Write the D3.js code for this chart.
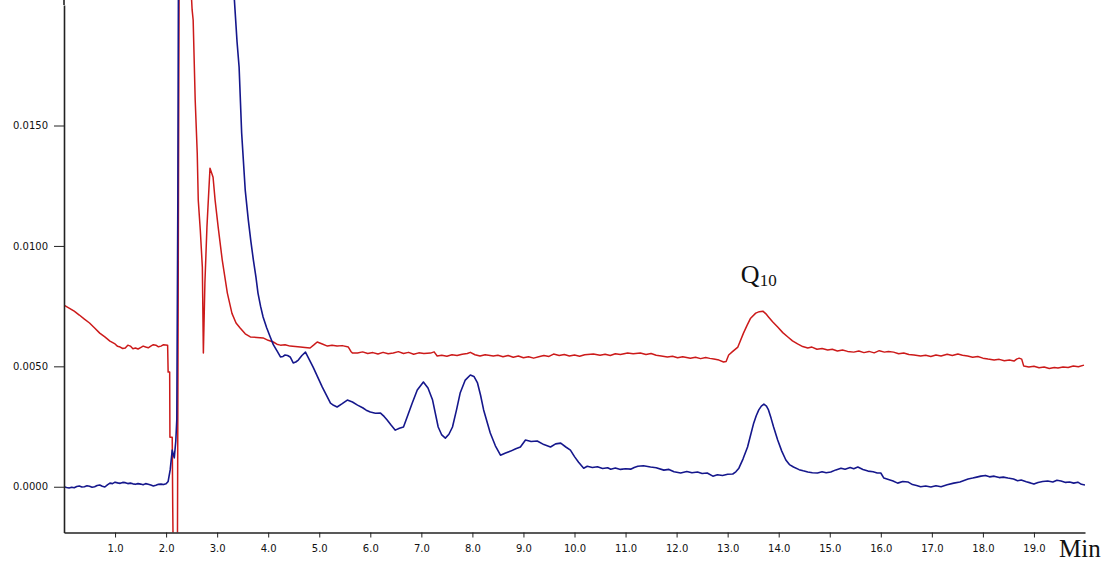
<!DOCTYPE html>
<html>
<head>
<meta charset="utf-8">
<script src="https://cdn.jsdelivr.net/npm/d3@7/dist/d3.min.js"></script>
<style>
  html, body { margin: 0; padding: 0; background: #fff; }
  svg { display: block; }
  .axis text { font-family: "DejaVu Sans", sans-serif; font-size: 10px; fill: #111; }
  .axis path, .axis line { stroke: #222; }
</style>
</head>
<body>
<svg id="chart" width="1115" height="564"></svg>
<script>
// Retention time (min) and absorbance readings for the two chromatograms
const blueTrace = [
  [0.00,0.00000],[0.05,-0.00003],[0.10,-0.00005],[0.15,-0.00002],[0.20,-0.00004],[0.25,0.00001],[0.30,0.00003],[0.35,-0.00001],[0.40,0.00000],[0.45,0.00004],
  [0.50,0.00002],[0.55,-0.00002],[0.60,0.00000],[0.65,0.00005],[0.70,0.00007],[0.75,0.00002],[0.80,-0.00001],[0.85,0.00008],[0.90,0.00015],[0.95,0.00013],
  [1.00,0.00019],[1.05,0.00016],[1.10,0.00014],[1.15,0.00018],[1.20,0.00017],[1.25,0.00013],[1.30,0.00015],[1.35,0.00012],[1.40,0.00010],[1.45,0.00013],
  [1.50,0.00011],[1.55,0.00008],[1.60,0.00013],[1.65,0.00010],[1.70,0.00007],[1.75,0.00003],[1.80,0.00006],[1.85,0.00010],[1.90,0.00011],[1.95,0.00009],
  [2.00,0.00012],[2.04,0.00022],[2.08,0.00070],[2.12,0.00152],[2.16,0.00120],[2.19,0.00190],[2.21,0.00280],[2.23,0.01190],[2.26,0.03500],[2.80,0.06000],
  [3.30,0.02150],[3.35,0.01980],[3.39,0.01847],[3.43,0.01743],[3.48,0.01469],[3.55,0.01232],[3.61,0.01108],[3.66,0.01020],[3.71,0.00941],[3.76,0.00870],
  [3.80,0.00804],[3.85,0.00750],[3.90,0.00705],[3.97,0.00660],[4.04,0.00622],[4.10,0.00590],[4.17,0.00565],[4.24,0.00539],[4.29,0.00541],[4.33,0.00547],
  [4.38,0.00545],[4.43,0.00539],[4.49,0.00514],[4.54,0.00518],[4.59,0.00526],[4.66,0.00545],[4.73,0.00559],[4.80,0.00530],[4.88,0.00497],[4.97,0.00455],
  [5.06,0.00414],[5.14,0.00380],[5.22,0.00347],[5.28,0.00338],[5.35,0.00331],[5.45,0.00345],[5.55,0.00360],[5.65,0.00352],[5.75,0.00339],[5.85,0.00328],
  [5.92,0.00318],[6.00,0.00310],[6.10,0.00305],[6.20,0.00306],[6.27,0.00292],[6.33,0.00277],[6.41,0.00255],[6.49,0.00235],[6.57,0.00243],[6.65,0.00248],
  [6.74,0.00300],[6.82,0.00347],[6.92,0.00402],[7.04,0.00435],[7.13,0.00410],[7.22,0.00360],[7.33,0.00248],[7.40,0.00215],[7.47,0.00202],[7.54,0.00218],
  [7.61,0.00248],[7.69,0.00320],[7.76,0.00389],[7.86,0.00443],[7.96,0.00464],[8.03,0.00458],[8.10,0.00431],[8.16,0.00380],[8.22,0.00319],[8.35,0.00223],
  [8.45,0.00170],[8.55,0.00131],[8.65,0.00140],[8.75,0.00148],[8.85,0.00158],[8.94,0.00165],[9.04,0.00194],[9.15,0.00188],[9.27,0.00190],[9.40,0.00175],
  [9.53,0.00165],[9.63,0.00178],[9.73,0.00181],[9.83,0.00165],[9.92,0.00152],[10.00,0.00125],[10.08,0.00102],[10.18,0.00077],[10.25,0.00085],[10.35,0.00080],
  [10.45,0.00083],[10.55,0.00076],[10.65,0.00079],[10.71,0.00073],[10.80,0.00078],[10.90,0.00072],[11.00,0.00075],[11.10,0.00073],[11.17,0.00080],[11.24,0.00085],
  [11.35,0.00087],[11.49,0.00082],[11.60,0.00079],[11.75,0.00069],[11.85,0.00072],[11.95,0.00062],[12.08,0.00057],[12.20,0.00063],[12.30,0.00058],[12.41,0.00061],
  [12.50,0.00055],[12.60,0.00057],[12.71,0.00044],[12.80,0.00050],[12.90,0.00047],[13.00,0.00052],[13.10,0.00053],[13.16,0.00062],[13.22,0.00077],[13.30,0.00115],
  [13.39,0.00165],[13.45,0.00215],[13.51,0.00264],[13.56,0.00295],[13.61,0.00319],[13.66,0.00335],[13.71,0.00343],[13.76,0.00335],[13.80,0.00319],[13.85,0.00285],
  [13.90,0.00248],[13.98,0.00194],[14.06,0.00148],[14.14,0.00111],[14.21,0.00092],[14.29,0.00082],[14.40,0.00071],[14.48,0.00066],[14.57,0.00061],[14.66,0.00058],
  [14.76,0.00057],[14.85,0.00062],[14.93,0.00058],[15.02,0.00061],[15.12,0.00070],[15.22,0.00077],[15.30,0.00073],[15.40,0.00080],[15.47,0.00075],[15.55,0.00082],
  [15.65,0.00072],[15.75,0.00065],[15.85,0.00062],[15.93,0.00057],[16.00,0.00057],[16.06,0.00036],[16.15,0.00030],[16.24,0.00024],[16.33,0.00015],[16.43,0.00022],
  [16.53,0.00020],[16.62,0.00009],[16.70,0.00005],[16.78,0.00000],[16.88,0.00003],[16.98,-0.00001],[17.08,0.00004],[17.18,0.00000],[17.30,0.00008],[17.43,0.00015],
  [17.55,0.00020],[17.63,0.00026],[17.71,0.00032],[17.80,0.00036],[17.88,0.00040],[17.96,0.00044],[18.05,0.00047],[18.13,0.00041],[18.22,0.00044],[18.32,0.00038],
  [18.40,0.00040],[18.49,0.00036],[18.60,0.00032],[18.68,0.00025],[18.75,0.00028],[18.85,0.00021],[18.93,0.00016],[19.00,0.00011],[19.08,0.00018],[19.17,0.00022],
  [19.27,0.00024],[19.37,0.00020],[19.45,0.00027],[19.53,0.00024],[19.62,0.00018],[19.70,0.00020],[19.78,0.00015],[19.86,0.00019],[19.93,0.00010],[20.00,0.00007]
];

const redTrace = [
  [0.00,0.00754],[0.10,0.00742],[0.20,0.00729],[0.30,0.00713],[0.40,0.00696],[0.50,0.00680],[0.60,0.00659],[0.70,0.00638],[0.80,0.00622],[0.90,0.00605],
  [1.00,0.00593],[1.05,0.00583],[1.10,0.00580],[1.15,0.00574],[1.20,0.00576],[1.25,0.00588],[1.30,0.00584],[1.35,0.00573],[1.40,0.00576],[1.45,0.00572],
  [1.50,0.00578],[1.55,0.00584],[1.60,0.00580],[1.65,0.00577],[1.70,0.00584],[1.75,0.00590],[1.80,0.00588],[1.85,0.00581],[1.90,0.00584],[1.95,0.00590],
  [2.03,0.00588],[2.04,0.00476],[2.07,0.00476],[2.075,0.00206],[2.12,0.00206],[2.13,-0.00088],[2.14,-0.00300],[2.22,-0.00400],[2.26,0.02500],[2.40,0.04000],
  [2.48,0.02100],[2.51,0.01980],[2.53,0.01938],[2.57,0.01606],[2.61,0.01385],[2.63,0.01190],[2.67,0.01065],[2.71,0.00912],[2.73,0.00555],[2.76,0.00845],
  [2.80,0.01078],[2.82,0.01161],[2.86,0.01323],[2.92,0.01285],[2.96,0.01190],[3.02,0.01078],[3.10,0.00941],[3.20,0.00804],[3.29,0.00720],[3.37,0.00680],
  [3.45,0.00659],[3.55,0.00635],[3.65,0.00622],[3.78,0.00620],[3.90,0.00618],[4.00,0.00608],[4.10,0.00601],[4.17,0.00592],[4.24,0.00588],[4.33,0.00590],
  [4.43,0.00584],[4.53,0.00582],[4.63,0.00580],[4.72,0.00578],[4.82,0.00576],[4.90,0.00590],[4.96,0.00601],[5.06,0.00593],[5.16,0.00584],[5.25,0.00588],
  [5.35,0.00584],[5.45,0.00586],[5.57,0.00580],[5.62,0.00562],[5.65,0.00555],[5.75,0.00555],[5.85,0.00560],[5.95,0.00553],[6.05,0.00557],[6.15,0.00551],
  [6.25,0.00558],[6.35,0.00552],[6.45,0.00555],[6.55,0.00561],[6.65,0.00553],[6.75,0.00558],[6.85,0.00550],[6.95,0.00556],[7.05,0.00553],[7.18,0.00555],
  [7.25,0.00560],[7.31,0.00543],[7.40,0.00546],[7.50,0.00542],[7.60,0.00548],[7.70,0.00545],[7.80,0.00550],[7.90,0.00553],[7.96,0.00558],[8.05,0.00548],
  [8.15,0.00543],[8.25,0.00548],[8.41,0.00543],[8.50,0.00546],[8.60,0.00540],[8.70,0.00545],[8.80,0.00538],[8.90,0.00543],[9.00,0.00536],[9.10,0.00540],
  [9.20,0.00534],[9.30,0.00540],[9.40,0.00545],[9.50,0.00541],[9.59,0.00551],[9.70,0.00545],[9.80,0.00549],[9.90,0.00543],[10.00,0.00547],[10.10,0.00542],
  [10.20,0.00548],[10.37,0.00551],[10.50,0.00546],[10.60,0.00550],[10.70,0.00545],[10.80,0.00552],[10.90,0.00549],[11.04,0.00555],[11.15,0.00552],[11.29,0.00555],
  [11.40,0.00549],[11.50,0.00553],[11.60,0.00546],[11.70,0.00543],[11.82,0.00539],[11.92,0.00542],[12.02,0.00536],[12.12,0.00540],[12.27,0.00534],[12.37,0.00538],
  [12.47,0.00532],[12.57,0.00537],[12.65,0.00533],[12.73,0.00530],[12.83,0.00526],[12.92,0.00518],[12.97,0.00520],[13.02,0.00547],[13.10,0.00562],[13.20,0.00580],
  [13.31,0.00638],[13.38,0.00670],[13.45,0.00700],[13.55,0.00721],[13.62,0.00727],[13.69,0.00729],[13.75,0.00718],[13.80,0.00705],[13.88,0.00685],[13.98,0.00663],
  [14.08,0.00640],[14.18,0.00622],[14.27,0.00606],[14.37,0.00593],[14.47,0.00582],[14.57,0.00576],[14.65,0.00580],[14.75,0.00571],[14.85,0.00574],[14.96,0.00568],
  [15.05,0.00571],[15.15,0.00564],[15.25,0.00568],[15.35,0.00562],[15.47,0.00559],[15.57,0.00564],[15.67,0.00557],[15.77,0.00562],[15.87,0.00556],[15.97,0.00565],
  [16.07,0.00559],[16.15,0.00562],[16.25,0.00559],[16.35,0.00552],[16.45,0.00555],[16.55,0.00549],[16.65,0.00547],[16.78,0.00543],[16.88,0.00546],[16.98,0.00541],
  [17.08,0.00547],[17.18,0.00543],[17.30,0.00550],[17.40,0.00545],[17.51,0.00551],[17.60,0.00546],[17.70,0.00543],[17.80,0.00538],[17.90,0.00541],[18.00,0.00534],
  [18.10,0.00530],[18.22,0.00526],[18.32,0.00529],[18.42,0.00523],[18.52,0.00526],[18.61,0.00522],[18.66,0.00530],[18.71,0.00534],[18.76,0.00530],[18.80,0.00501],
  [18.90,0.00497],[19.00,0.00500],[19.10,0.00494],[19.20,0.00497],[19.30,0.00491],[19.40,0.00495],[19.47,0.00493],[19.57,0.00497],[19.67,0.00495],[19.77,0.00501],
  [19.87,0.00498],[19.98,0.00505]
];

const timeTicks = [1, 2, 3, 4, 5, 6, 7, 8, 9, 10, 11, 12, 13, 14, 15, 16, 17, 18, 19];
const absTicks = [0.0000, 0.0050, 0.0100, 0.0150];
const timeRange = [0, 20];
const absRange = [-0.0019, 0.0200];

const peakName = "Q";
const peakSub = "10";
const peakTime = 13.69;

const svg = d3.select("#chart");
const plot = { left: 64, right: 1085, top: 5.1, bottom: 532.5 };

const x = d3.scaleLinear().domain(timeRange).range([plot.left, plot.right]);
const y = d3.scaleLinear().domain(absRange).range([plot.bottom, plot.top]);

svg.append("defs").append("clipPath").attr("id", "plot-clip")
  .append("rect")
  .attr("x", plot.left).attr("y", 0)
  .attr("width", plot.right - plot.left).attr("height", plot.bottom);

const line = d3.line().x(d => x(d[0])).y(d => y(d[1]));

const traces = svg.append("g").attr("clip-path", "url(#plot-clip)");
traces.append("path").datum(redTrace)
  .attr("d", line).attr("fill", "none")
  .attr("stroke", "#cc1a1a").attr("stroke-width", 1.5).attr("stroke-linejoin", "round");
traces.append("path").datum(blueTrace)
  .attr("d", line).attr("fill", "none")
  .attr("stroke", "#15178c").attr("stroke-width", 1.6).attr("stroke-linejoin", "round");

// axes
const yAxis = svg.append("g").attr("class", "axis")
  .attr("transform", `translate(${plot.left},0)`)
  .call(d3.axisLeft(y).tickValues(absTicks).tickFormat(d3.format(".4f")).tickSize(10).tickPadding(6).tickSizeOuter(0));
yAxis.select(".domain").attr("stroke-width", 1.6);

const xAxis = svg.append("g").attr("class", "axis")
  .attr("transform", `translate(0,${plot.bottom})`)
  .call(d3.axisBottom(x).tickValues(timeTicks).tickFormat(d3.format(".1f")).tickSize(5).tickPadding(7).tickSizeOuter(0));
xAxis.select(".domain").attr("stroke-width", 1.6);

// extend the y axis line up to the top of the frame
svg.append("line")
  .attr("x1", plot.left).attr("x2", plot.left)
  .attr("y1", 0).attr("y2", plot.top)
  .attr("stroke", "#222").attr("stroke-width", 1.6);

svg.append("text")
  .attr("x", 1059).attr("y", 557)
  .attr("font-family", "Liberation Serif, serif").attr("font-size", 25)
  .attr("fill", "#111")
  .text("Min");

// peak annotation
const lbl = svg.append("text")
  .attr("x", x(peakTime) - 22)
  .attr("y", 283)
  .attr("font-family", "Liberation Serif, serif").attr("font-size", 26)
  .attr("fill", "#111");
lbl.append("tspan").text(peakName);
lbl.append("tspan").attr("font-size", 17).attr("dy", 3).text(peakSub);
</script>
</body>
</html>
